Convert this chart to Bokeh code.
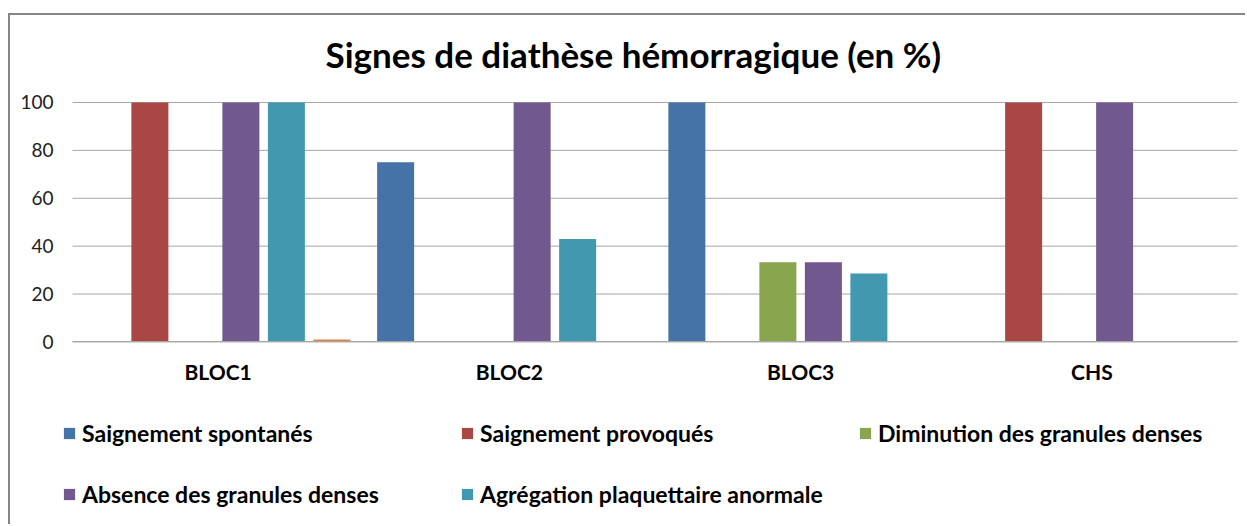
from bokeh.plotting import figure
from bokeh.models import (ColumnDataSource, Range1d, FixedTicker, Legend, LegendItem,
                          LinearAxis)
from bokeh.transform import dodge
from bokeh.embed import file_html
from bokeh.resources import INLINE

categories = ["BLOC1", "BLOC2", "BLOC3", "CHS"]
series_names = ["Saignement spontanés", "Saignement provoqués", "Diminution des granules denses",
                "Absence des granules denses", "Agrégation plaquettaire anormale", ""]
spontanes = [0, 75, 100, 0]
provoques = [100, 0, 0, 100]
diminution = [0, 0, 33.3, 0]
absence = [100, 100, 33.3, 100]
agregation = [100, 43, 28.6, 0]
autre = [1, 0, 0, 0]
y_ticks = [0, 20, 40, 60, 80, 100]

colors = ["#4572A7", "#AA4643", "#89A54E", "#71588F", "#4198AF", "#DB843D"]

FONT = "Lato"
BORDER = "2px solid #868686"

xi = list(range(len(categories)))
src = ColumnDataSource(dict(xi=xi, cat=categories, s0=spontanes, s1=provoques, s2=diminution,
                            s3=absence, s4=agregation, s5=autre))

# one category = 291.25 px, 2.4 px per percent
cat_px = 291.25
y_px = 2.4
x_start = -0.5 - 62 / cat_px
x_end = len(categories) - 0.5 + 10 / cat_px
y_end = 100 + 13 / y_px
y_start = -185 / y_px

p = figure(width=1237, height=511, x_range=Range1d(x_start, x_end),
           y_range=Range1d(y_start, y_end), output_backend="svg", toolbar_location=None,
           x_axis_location=None, y_axis_location=None,
           min_border_left=0, min_border_right=0, min_border_top=73, min_border_bottom=0)
p.styles = {"border-left": BORDER, "border-top": BORDER, "margin-left": "8px",
            "margin-top": "13px"}
p.xgrid.grid_line_color = None
p.ygrid.grid_line_color = None
p.outline_line_color = None

# horizontal gridlines at the y ticks, across the category area
n = len(y_ticks)
p.segment(x0=[-0.5] * n, x1=[len(categories) - 0.5] * n, y0=y_ticks, y1=y_ticks,
          line_color="#a6a6a6", line_width=1, level="underlay")

slot = 45.5 / cat_px
bw = 37 / cat_px
renderers = []
for i in range(6):
    r = p.vbar(x=dodge("xi", (i - 2.5) * slot), top="s%d" % i, width=bw,
               source=src, fill_color=colors[i], line_alpha=0)
    renderers.append(r)

yaxis = LinearAxis(fixed_location=-0.5, bounds=(0, 100), ticker=FixedTicker(ticks=y_ticks))
yaxis.axis_line_color = None
yaxis.major_tick_line_color = None
yaxis.minor_tick_line_color = None
yaxis.major_label_standoff = 13
yaxis.major_label_text_font = FONT
yaxis.major_label_text_font_size = "19px"
yaxis.major_label_text_color = "#222222"
p.add_layout(yaxis, "left")

xaxis = LinearAxis(fixed_location=0, bounds=(-0.5, len(categories) - 0.5),
                   ticker=FixedTicker(ticks=xi),
                   major_label_overrides={i: c for i, c in zip(xi, categories)})
xaxis.axis_line_color = "#a6a6a6"
xaxis.major_tick_line_color = None
xaxis.minor_tick_line_color = None
xaxis.major_label_standoff = 11
xaxis.major_label_text_font = FONT
xaxis.major_label_text_font_style = "bold"
xaxis.major_label_text_font_size = "21px"
xaxis.major_label_text_color = "#000000"
p.add_layout(xaxis, "below")

p.title.text = "Signes de diathèse hémorragique (en %)"
p.title.align = "left"
p.title.offset = 315
p.title.text_font = FONT
p.title.text_font_size = "35px"
p.title.text_font_style = "bold"
p.title.text_color = "#000000"
p.title.standoff = 30

items = [LegendItem(label=series_names[i], renderers=[renderers[i]]) for i in range(5)]
leg = Legend(items=items, orientation="horizontal", ncols=3, location=(52, 18),
             glyph_width=14, glyph_height=14, label_standoff=6, label_width=345, label_height=24,
             spacing=33, padding=0, margin=0, border_line_alpha=0, background_fill_alpha=0,
             label_text_font=FONT, label_text_font_style="bold", label_text_font_size="23px",
             label_text_color="#000000")
p.add_layout(leg, "center")

open("out.html", "w").write(file_html(p, INLINE))
